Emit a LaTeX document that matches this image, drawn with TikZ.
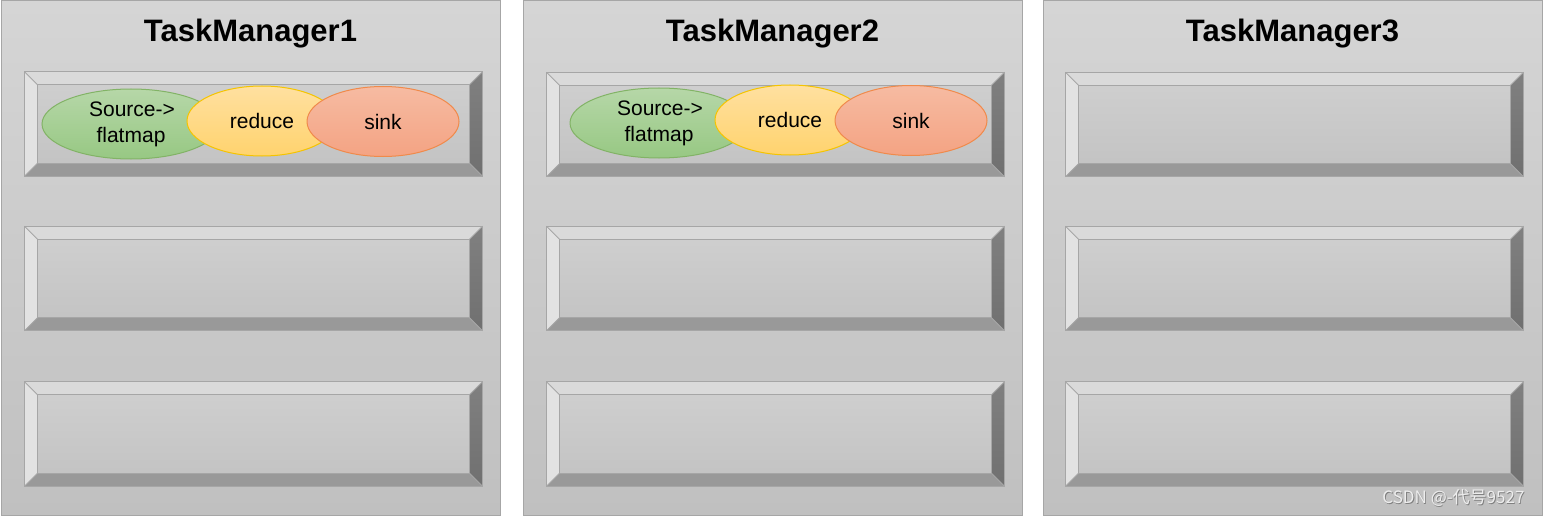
\documentclass[tikz,border=0pt]{standalone}
\usepackage{fontspec}
\setmainfont{Liberation Sans}
\newfontfamily\cjkfont{Noto Sans CJK SC}
\usetikzlibrary{shapes.geometric,calc}

% colours
\definecolor{panelTop}{HTML}{D5D5D5}
\definecolor{panelBot}{HTML}{C0C0C0}
\definecolor{edgeGray}{HTML}{A6A6A6}
\definecolor{faceTop}{HTML}{D0D0D0}
\definecolor{faceBot}{HTML}{C2C2C2}
\definecolor{bevTopC}{HTML}{DADADA}
\definecolor{bevLeftC}{HTML}{E2E2E2}
\definecolor{bevRightTop}{HTML}{808080}
\definecolor{bevRightBot}{HTML}{707070}
\definecolor{bevBotC}{HTML}{999999}
\definecolor{greenTop}{HTML}{B6D7A8}
\definecolor{greenBot}{HTML}{97C883}
\definecolor{greenLine}{HTML}{82B366}
\definecolor{yellowTop}{HTML}{FFE0A0}
\definecolor{yellowBot}{HTML}{FFD36E}
\definecolor{yellowLine}{HTML}{F5C400}
\definecolor{redTop}{HTML}{F6BBA2}
\definecolor{redBot}{HTML}{F4A383}
\definecolor{redLine}{HTML}{F08A4B}

\tikzset{
  panel/.style={rectangle, draw=edgeGray, line width=1pt, top color=panelTop,
    bottom color=panelBot, minimum width=499pt, minimum height=514pt, inner sep=0pt},
  title/.style={font=\bfseries\fontsize{31}{36}\selectfont, text=black},
  slotnode/.style={rectangle, draw=edgeGray, line width=1pt, top color=faceTop,
    bottom color=faceBot, minimum width=457pt, minimum height=103.5pt, inner sep=0pt},
  bevline/.style={draw=edgeGray, line width=0.8pt},
  op/.style={ellipse, line width=1pt, inner sep=0pt, align=center,
    font=\fontsize{21}{26}\selectfont},
  opgreen/.style={op, draw=greenLine, top color=greenTop, bottom color=greenBot,
    minimum width=178pt, minimum height=70pt},
  opyellow/.style={op, draw=yellowLine, top color=yellowTop, bottom color=yellowBot,
    minimum width=150pt, minimum height=70pt},
  opred/.style={op, draw=redLine, top color=redTop, bottom color=redBot,
    minimum width=152pt, minimum height=70pt},
  mark text/.style={font=\cjkfont\fontsize{17}{20}\selectfont, anchor=east},
}

% a bevelled task slot: name, centre x, centre y
\newcommand\drawslot[3]{%
  \node[slotnode] (#1) at (#2,#3) {};
  \coordinate (#1-a) at ($(#1.north west)+(13,13)$);
  \coordinate (#1-b) at ($(#1.north east)+(-13,13)$);
  \coordinate (#1-c) at ($(#1.south east)+(-13,-13)$);
  \coordinate (#1-d) at ($(#1.south west)+(13,-13)$);
  \fill[bevTopC] (#1.north west) -- (#1.north east) -- (#1-b) -- (#1-a) -- cycle;
  \fill[bevLeftC] (#1.north west) -- (#1-a) -- (#1-d) -- (#1.south west) -- cycle;
  \shade[top color=bevRightTop, bottom color=bevRightBot]
    (#1.north east) -- (#1.south east) -- (#1-c) -- (#1-b) -- cycle;
  \fill[bevBotC] (#1.south west) -- (#1-d) -- (#1-c) -- (#1.south east) -- cycle;
  \draw[bevline] (#1-a) rectangle (#1-c);
  \draw[bevline] (#1.north west) -- (#1-a) (#1.north east) -- (#1-b)
    (#1.south east) -- (#1-c) (#1.south west) -- (#1-d);
  \draw[bevline] (#1.north west) rectangle (#1.south east);
}

\begin{document}
\begin{tikzpicture}[x=1pt, y=-1pt]
  \useasboundingbox (0,0) rectangle (1544,516);
  \fill[white] (0,0) rectangle (1544,516);

  % task manager panels
  \node[panel] (tm1) at (250.5,258) {};
  \node[panel] (tm2) at (772.5,258) {};
  \node[panel] (tm3) at (1292.5,258) {};

  \node[title] (t1) at (250.5,34) {TaskManager1};
  \node[title] (t2) at (772.5,34) {TaskManager2};
  \node[title] (t3) at (1292.5,34) {TaskManager3};

  % slots
  \drawslot{s11}{253.5}{124}
  \drawslot{s12}{253.5}{278.5}
  \drawslot{s13}{253.5}{434}
  \drawslot{s21}{775.5}{124.5}
  \drawslot{s22}{775.5}{278.5}
  \drawslot{s23}{775.5}{434}
  \drawslot{s31}{1294.5}{124.5}
  \drawslot{s32}{1294.5}{278.5}
  \drawslot{s33}{1294.5}{434}

  % operator chains
  \node[opgreen] (src1) at (131,124) {\hspace*{2pt}Source->\\flatmap};
  \node[opyellow] (red1) at (262,121) {reduce};
  \node[opred] (snk1) at (383,121.5) {sink};

  \node[opgreen] (src2) at (659,123) {\hspace*{2pt}Source->\\flatmap};
  \node[opyellow] (red2) at (790,120) {reduce};
  \node[opred] (snk2) at (911,120.5) {sink};

  % watermark
  \node[mark text, text=black!50] (wm0) at (1528.8,498.8) {CSDN @-代号9527};
  \node[mark text, text=white!93!black] (wm) at (1528,498) {CSDN @-代号9527};
\end{tikzpicture}
\end{document}
